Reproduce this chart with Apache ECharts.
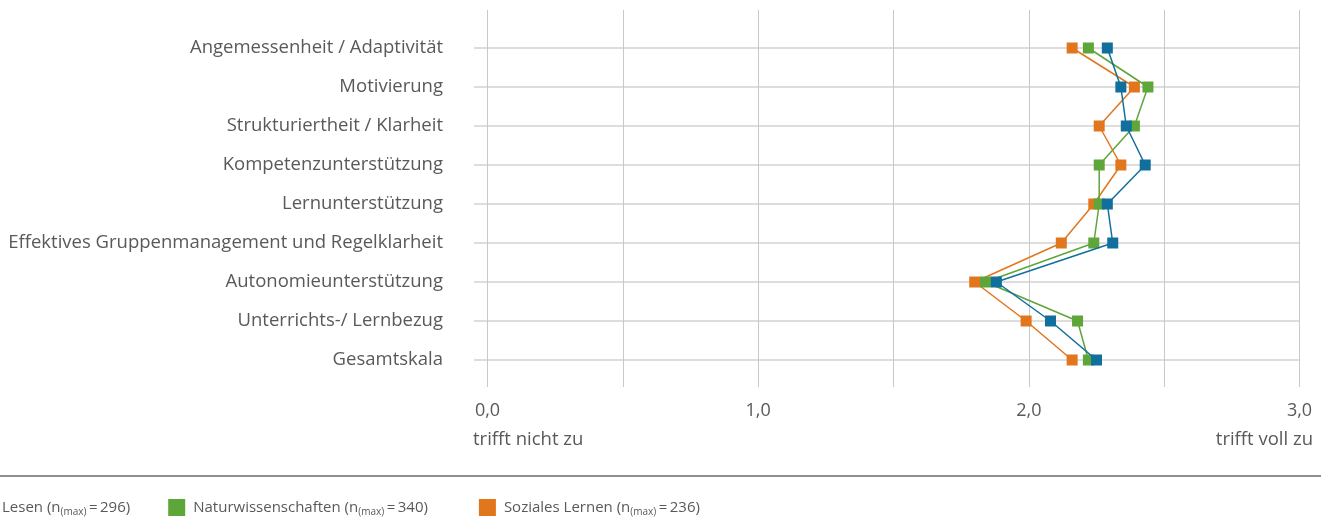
<!DOCTYPE html>
<html>
<head>
<meta charset="utf-8">
<script src="https://cdn.jsdelivr.net/npm/echarts@6/dist/echarts.min.js"></script>
<style>
	html, body { margin: 0; padding: 0; background: #fff; }
	#chart { width: 1328px; height: 519px; }
</style>
</head>
<body>
<div id="chart"></div>
<script>
'use strict';
var categories = [
	'Angemessenheit / Adaptivität',
	'Motivierung',
	'Strukturiertheit / Klarheit',
	'Kompetenzunterstützung',
	'Lernunterstützung',
	'Effektives Gruppenmanagement und Regelklarheit',
	'Autonomieunterstützung',
	'Unterrichts-/ Lernbezug',
	'Gesamtskala'
];
var lesen = [2.29, 2.34, 2.36, 2.43, 2.29, 2.31, 1.88, 2.08, 2.25];
var natur = [2.22, 2.44, 2.39, 2.26, 2.26, 2.24, 1.84, 2.18, 2.22];
var sozial = [2.16, 2.39, 2.26, 2.34, 2.24, 2.12, 1.80, 1.99, 2.16];
var seriesNames = ['Lesen', 'Naturwissenschaften', 'Soziales Lernen'];
var nMax = [296, 340, 236];
var xTicks = ['0,0', '1,0', '2,0', '3,0'];

var FONT = '"Open Sans", "Noto Sans", sans-serif';
var TEXT = '#595959';
var colors = ['#106f9c', '#5ea53a', '#e1761d'];

var myChart = echarts.init(document.getElementById('chart'));

function lineSeries(i, data) {
	return {
		name: seriesNames[i],
		type: 'line',
		xAxisIndex: 1,
		yAxisIndex: 1,
		data: data,
		symbol: 'rect',
		symbolSize: 11,
		z: 10 - i,
		lineStyle: { width: 1.5, color: colors[i] },
		itemStyle: { color: colors[i] },
		emphasis: { disabled: true },
		animation: false
	};
}

var option = {
	textStyle: { fontFamily: FONT },
	grid: [
		// nur fuer die senkrechten Linien
		{ left: 487.5, right: 28.5, top: 10, bottom: 132 },
		// Kategorien, waagrechte Linien und Reihen
		{ left: 474, right: 28.5, top: 48, bottom: 159 }
	],
	xAxis: [
		{
			gridIndex: 0,
			type: 'value',
			min: 0,
			max: 3,
			interval: 0.5,
			axisLine: { show: false },
			axisTick: { show: false },
			splitLine: { lineStyle: { color: '#c9c9c9', width: 1 } },
			axisLabel: {
				margin: 15,
				fontSize: 18,
				color: TEXT,
				fontFamily: FONT,
				formatter: function (v) {
					return v % 1 === 0 ? xTicks[v] : '';
				}
			}
		},
		{
			gridIndex: 1,
			type: 'value',
			min: -13.5 / 270.67,
			max: 3,
			show: false
		}
	],
	yAxis: [
		{ gridIndex: 0, type: 'value', show: false },
		{
			gridIndex: 1,
			type: 'category',
			data: categories,
			inverse: true,
			boundaryGap: false,
			axisLine: { show: false },
			axisTick: { show: false },
			splitLine: { show: true, lineStyle: { color: '#d2d2d2', width: 1.5 } },
			axisLabel: { margin: 31, fontSize: 18.5, color: TEXT, fontFamily: FONT }
		}
	],
	legend: {
		left: -28,
		top: 494,
		itemWidth: 17,
		itemHeight: 17,
		itemGap: 38,
		icon: 'rect',
		selectedMode: false,
		data: seriesNames.map(function (n, i) {
			return { name: n, itemStyle: { color: colors[i] } };
		}),
		formatter: function (name) {
			var i = seriesNames.indexOf(name);
			var s = '{a|' + name + ' (n}{s|(max)}{a|\u2009=\u2009' + nMax[i] + ')}';
			if (i === 1) s += '{g| }';
			return s;
		},
		textStyle: {
			padding: [0, 0, 0, 3],
			rich: {
				a: { fontSize: 15, color: TEXT, fontFamily: FONT, lineHeight: 20 },
				s: { fontSize: 10, color: TEXT, fontFamily: FONT, lineHeight: 12, verticalAlign: 'bottom' },
				g: { width: 13, fontSize: 15, lineHeight: 20 }
			}
		}
	},
	graphic: [
		{
			type: 'text', left: 473, top: 430,
			style: { text: 'trifft nicht zu', font: '18.5px ' + FONT, fill: TEXT }
		},
		{
			type: 'text', right: 15, top: 430,
			style: { text: 'trifft voll zu', font: '18.5px ' + FONT, fill: TEXT }
		},
		{
			type: 'line',
			shape: { x1: 0, y1: 476, x2: 1321, y2: 476 },
			style: { stroke: '#8f8f8f', lineWidth: 2 }
		}
	],
	series: [
		lineSeries(0, lesen),
		lineSeries(1, natur),
		lineSeries(2, sozial)
	]
};
myChart.setOption(option);
</script>
</body>
</html>
